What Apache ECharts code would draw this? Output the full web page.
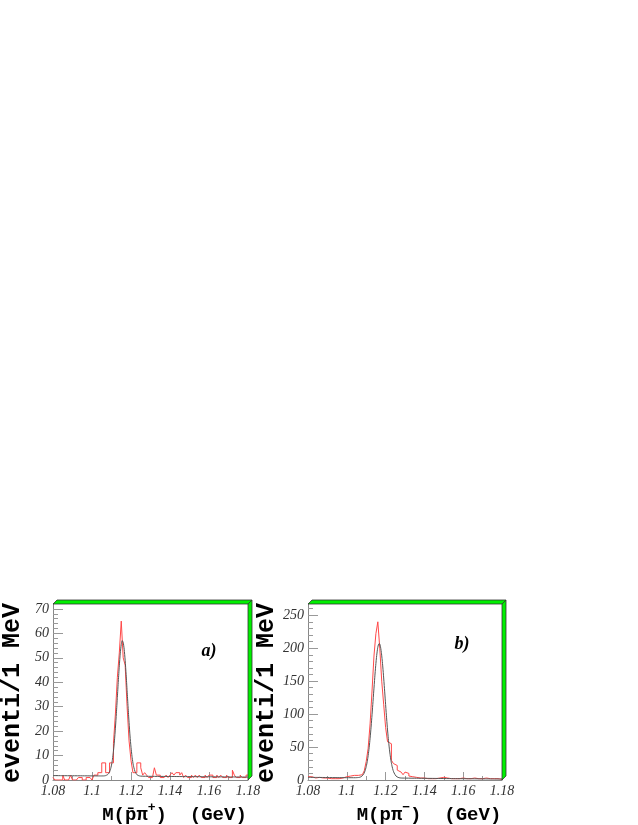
<!DOCTYPE html>
<html><head><meta charset="utf-8">
<script src="https://cdn.jsdelivr.net/npm/echarts@6/dist/echarts.min.js"></script>
<style>html,body{margin:0;padding:0;background:#fff}#c{width:638px;height:825px}</style>
</head><body><div id="c"></div>
<script>
// ---- data ----
const binStart = 1.08, binWidth = 0.001, xMin = 1.08, xMax = 1.18;
const countsA = [1,0,0,0,0,2,0,0,0,2,
 0,0,0,1,1,0,0,1,1,1,
 0,2,2,3,3,7,7,3,3,7,
 7,15,27,42,52,65,50,47,30,16,
 8,3,3,7,7,5,2,3,2,1,
 1,1,5,2,2,1,1,1,2,1,
 2,3,2,3,3,2,3,1,2,1,
 1,2,1,2,1,2,1,1,2,1,
 2,2,1,1,2,1,2,1,1,2,
 1,1,4,2,1,1,2,1,1,2];
const countsB = [5,5,4,3,3,4,2,3,2,3,
 2,2,3,2,3,2,3,3,4,5,
 5,6,6,7,6,7,8,8,10,14,
 28,48,85,135,188,222,240,200,150,115,
 80,58,55,30,25,22,15,12,10,8,
 12,10,6,5,8,4,5,3,4,3,
 4,2,3,2,3,2,2,3,2,4,
 2,3,2,2,3,2,3,2,2,3,
 2,2,3,2,2,3,2,2,3,2,
 2,3,2,2,3,2,1,2,2,1];
const fitAX = [1.080,1.085,1.090,1.095,1.100,1.104,1.106,1.107,1.108,1.1085,1.109,1.1095,1.110,1.1105,1.111,1.1115,1.112,1.1125,1.113,1.1135,1.114,1.1145,1.115,1.1155,1.116,1.1165,1.117,1.1175,1.118,1.1185,1.119,1.1195,1.120,1.1205,1.121,1.1215,1.122,1.1225,1.123,1.124,1.125,1.130,1.140,1.150,1.160,1.170,1.180];
const fitAY = [1.8,1.77,1.74,1.71,1.68,1.66,1.67,1.8,2.2,2.6,3.3,4.4,6.1,8.5,11.8,16.0,21.2,27.3,33.8,40.5,46.7,51.9,55.4,57.0,56.3,53.5,49.0,43.1,36.5,29.9,23.6,18.0,13.4,9.7,6.9,5.0,3.6,2.8,2.2,1.75,1.58,1.5,1.44,1.38,1.32,1.26,1.2];
const fitBX = [1.080,1.085,1.090,1.095,1.100,1.1044,1.1064,1.1074,1.1084,1.1089,1.1094,1.1099,1.1104,1.1109,1.1114,1.1119,1.1124,1.1129,1.1134,1.1139,1.1144,1.1149,1.1154,1.1159,1.1164,1.1169,1.1174,1.1179,1.1184,1.1189,1.1194,1.1199,1.1204,1.1209,1.1214,1.1219,1.1224,1.1229,1.1234,1.1239,1.1244,1.1254,1.1264,1.1274,1.1284,1.135,1.145,1.155,1.165,1.175,1.180];
const fitBY = [4.0,3.9,3.75,3.6,3.5,3.45,3.95,5.0,7.7,10.2,13.9,18.9,25.8,34.7,46.0,59.9,76.2,94.7,114.6,135.1,155.1,173.5,188.8,200.0,206.1,206.7,201.6,191.4,176.9,159.0,139.2,118.6,98.3,79.5,62.8,48.4,36.6,27.1,19.9,14.4,10.6,5.9,4.0,3.2,2.95,2.7,2.4,2.1,1.85,1.6,1.5];
const xTickValues = [1.08,1.10,1.12,1.14,1.16,1.18];
const xTickLabels = ['1.08','1.1','1.12','1.14','1.16','1.18'];
const yTicksA = [0,10,20,30,40,50,60,70];
const yTicksB = [0,50,100,150,200,250];
const yMaxA = 72, yMaxB = 267;
const yTitle = 'eventi/1 MeV';
const panelTags = ['a)','b)'];

// ---- helpers ----
function range(step, maxV){ const r=[]; for(let v=step; v<maxV-1e-9; v+=step) r.push(+v.toFixed(6)); return r; }
const yMinorA = range(2, yMaxA), yMinorB = range(10, yMaxB);
const xMinor = []; for (let k=0;k<=10;k++) xMinor.push(+(xMin+k*0.01).toFixed(3));

function histData(counts){
  const d = counts.map((v,i)=>[+(binStart+i*binWidth).toFixed(4), v]);
  d.push([xMax, counts[counts.length-1]]);
  return d;
}
const labelStyle = {fontFamily:'Liberation Serif', fontStyle:'italic', fontSize:14, color:'#333'};
function xAxes(g){
  return [{
    type:'value', gridIndex:g, position:'bottom', min:xMin, max:xMax, interval:0.02,
    axisLine:{onZero:false, lineStyle:{color:'#888', width:1}},
    axisTick:{inside:true, length:8, customValues:xTickValues, lineStyle:{color:'#999'}},
    axisLabel:Object.assign({margin:4, customValues:xTickValues,
      formatter:v=>{const k=xTickValues.findIndex(t=>Math.abs(t-v)<1e-6); return k>=0?xTickLabels[k]:'';}}, labelStyle),
    splitLine:{show:false}
  },{
    type:'value', gridIndex:g, position:'bottom', min:xMin, max:xMax, interval:0.01,
    axisLine:{show:false, onZero:false},
    axisTick:{inside:true, length:4, customValues:xMinor, lineStyle:{color:'#999'}},
    axisLabel:{show:false}, splitLine:{show:false}
  }];
}
function yAxes(g, maxV, ticks, minor, interval){
  return [{
    type:'value', gridIndex:g, position:'left', min:0, max:maxV, interval:interval,
    axisLine:{show:true, onZero:false, lineStyle:{color:'#888', width:1}},
    axisTick:{show:true, inside:true, length:10, customValues:ticks, lineStyle:{color:'#999'}},
    axisLabel:Object.assign({margin:4, customValues:ticks, showMaxLabel:true}, labelStyle),
    splitLine:{show:false}
  },{
    type:'value', gridIndex:g, position:'left', min:0, max:maxV,
    axisLine:{show:false, onZero:false},
    axisTick:{show:true, inside:true, length:5, customValues:minor, lineStyle:{color:'#999'}},
    axisLabel:{show:false}, splitLine:{show:false}
  }];
}

const chart = echarts.init(document.getElementById('c'), null, {renderer:'canvas'});
chart.setOption({
  animation:false,
  backgroundColor:'#fff',
  grid:[
    {left:53, top:604, width:195, height:176},
    {left:308, top:604, width:194, height:176}
  ],
  xAxis: xAxes(0).concat(xAxes(1)),
  yAxis: yAxes(0, yMaxA, yTicksA, yMinorA, 10).concat(yAxes(1, yMaxB, yTicksB, yMinorB, 50)),
  series:[
    {type:'line', name:'dataA', xAxisIndex:0, yAxisIndex:0, step:'end', symbol:'none', data:histData(countsA), lineStyle:{color:'#ff4848', width:1}},
    {type:'line', name:'fitA', xAxisIndex:0, yAxisIndex:0, symbol:'none', smooth:0.2, data:fitAX.map((x,i)=>[x,fitAY[i]]), lineStyle:{color:'#555', width:1}},
    {type:'line', name:'dataB', xAxisIndex:2, yAxisIndex:2, step:'end', symbol:'none', data:histData(countsB), lineStyle:{color:'#ff4848', width:1}},
    {type:'line', name:'fitB', xAxisIndex:2, yAxisIndex:2, symbol:'none', smooth:0.2, data:fitBX.map((x,i)=>[x,fitBY[i]]), lineStyle:{color:'#555', width:1}}
  ]
});

// ---- decorations positioned from the axes ----
function frame(seriesIndex, maxV){
  const tl = chart.convertToPixel({seriesIndex}, [xMin, maxV]);
  const br = chart.convertToPixel({seriesIndex}, [xMax, 0]);
  const L=tl[0], T=tl[1], R=br[0], B=br[1], d=4;
  const st = {fill:'#00f000', stroke:'#333', lineWidth:0.8};
  return [
    {type:'polygon', shape:{points:[[L,T],[L+d,T-d],[R+d,T-d],[R,T]]}, style:st, z:10},
    {type:'polygon', shape:{points:[[R,T],[R+d,T-d],[R+d,B-d],[R,B]]}, style:st, z:10}
  ];
}
const yTitleFont = 'bold 25px "Liberation Mono", monospace';
const xTitleFont = 'bold 19px "Liberation Mono", monospace';
const richX = {t:{font:xTitleFont, fill:'#000'}, s:{font:'bold 13px "Liberation Mono", monospace', fill:'#000', padding:[0,0,14,0]}};
chart.setOption({graphic: frame(0, yMaxA).concat(frame(2, yMaxB)).concat([
  {type:'text', x:13, y:693, rotation:Math.PI/2, style:{text:yTitle, font:yTitleFont, fill:'#000', align:'center', verticalAlign:'middle'}},
  {type:'text', x:267, y:693, rotation:Math.PI/2, style:{text:yTitle, font:yTitleFont, fill:'#000', align:'center', verticalAlign:'middle'}},
  {type:'text', x:174.5, y:815, style:{text:'{t|M(p\u0304\u03c0}{s|+}{t|)  (GeV)}', rich:richX, align:'center', verticalAlign:'middle'}},
  {type:'text', x:429, y:815, style:{text:'{t|M(p\u03c0}{s|\u2212}{t|)  (GeV)}', rich:richX, align:'center', verticalAlign:'middle'}},
  {type:'text', x:209, y:651, style:{text:panelTags[0], font:'bold italic 18px "Liberation Serif", serif', fill:'#000', align:'center', verticalAlign:'middle'}},
  {type:'text', x:462, y:644, style:{text:panelTags[1], font:'bold italic 18px "Liberation Serif", serif', fill:'#000', align:'center', verticalAlign:'middle'}}
])});
</script></body></html>
